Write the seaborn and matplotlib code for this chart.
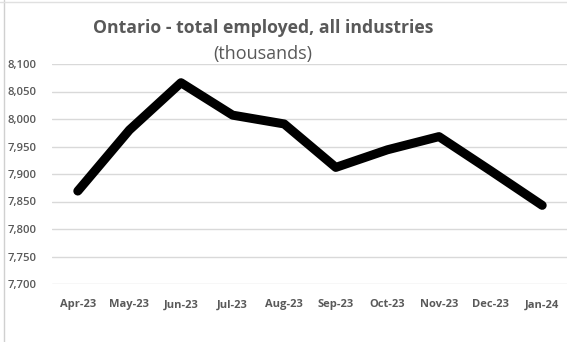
import matplotlib
matplotlib.use("Agg")
import matplotlib.pyplot as plt
import seaborn as sns
import pandas as pd
from matplotlib.ticker import FuncFormatter

months = ["Apr-23", "May-23", "Jun-23", "Jul-23", "Aug-23",
          "Sep-23", "Oct-23", "Nov-23", "Dec-23", "Jan-24"]
employed = [7869, 7980, 8066, 8007, 7991, 7912, 7944, 7968, 7906, 7843]
y_ticks = [7700, 7750, 7800, 7850, 7900, 7950, 8000, 8050, 8100]

df = pd.DataFrame({"month": months, "employed": employed})
df["pos"] = range(len(months))

sns.set_style("white")
plt.rcParams["font.family"] = ["Open Sans", "DejaVu Sans"]

fig = plt.figure(figsize=(5.67, 3.42), dpi=100)
ax = fig.add_axes([52 / 567, 1 - 284 / 342, 516 / 567, 220 / 342])

text_col = "#595959"
grid_col = "#d9d9d9"

for v in y_ticks:
    ax.axhline(v, color=grid_col, lw=1.0, zorder=0)

sns.lineplot(data=df, x="pos", y="employed", ax=ax, color="black",
             lw=6.5, solid_capstyle="round", solid_joinstyle="round",
             zorder=3)

ax.set_xlim(-0.5, len(months) - 0.5)
ax.set_ylim(7700, 8100)
ax.set_xticks(df["pos"])
ax.set_xticklabels(months, fontsize=8, fontweight="bold", color=text_col)
ax.set_yticks(y_ticks)
ax.yaxis.set_major_formatter(FuncFormatter(lambda v, p: f"{int(v):,}"))
for lbl in ax.get_yticklabels():
    lbl.set_fontsize(8.2)
    lbl.set_fontweight("semibold")
    lbl.set_color(text_col)
ax.tick_params(axis="both", length=0)
ax.tick_params(axis="x", pad=11)
ax.tick_params(axis="y", pad=11)
for s in ax.spines.values():
    s.set_visible(False)
ax.set_xlabel("")
ax.set_ylabel("")
ax.patch.set_alpha(0)

fig.text(263 / 567, 1 - 28 / 342, "Ontario - total employed, all industries",
         ha="center", va="center", fontsize=12.7, fontweight="bold",
         color=text_col)
fig.text(263 / 567, 1 - 54 / 342, "(thousands)", ha="center", va="center",
         fontsize=13, color=text_col)

# thin frame lines along the top and left edge
fig.add_artist(plt.Line2D([4 / 567, 4 / 567], [0, 1], color="#d0d0d0", lw=1))
fig.add_artist(plt.Line2D([0, 1], [1 - 2 / 342, 1 - 2 / 342], color="#e0e0e0", lw=1))

fig.savefig("out.png", dpi=100)
